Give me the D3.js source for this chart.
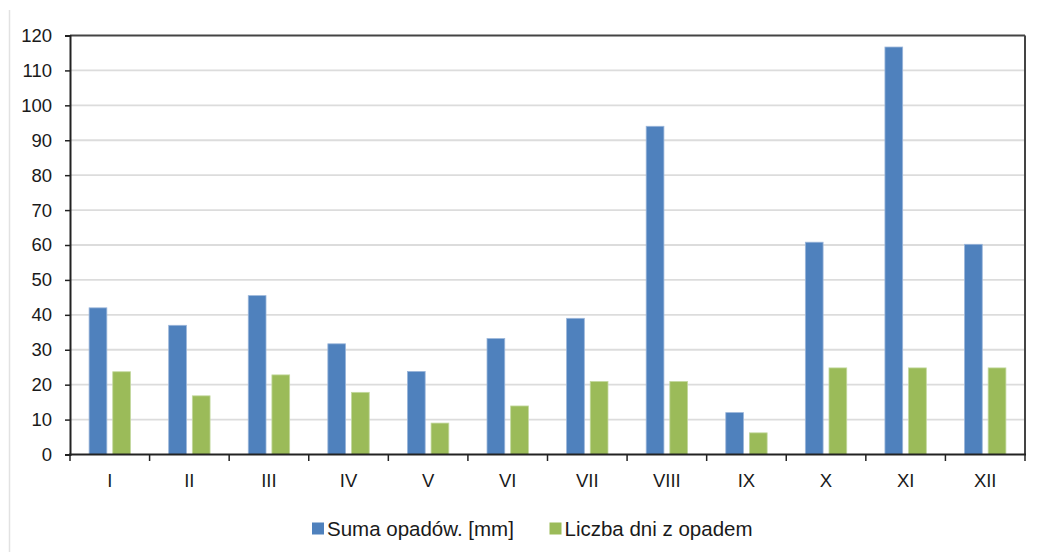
<!DOCTYPE html>
<html>
<head>
<meta charset="utf-8">
<script src="https://cdn.jsdelivr.net/npm/d3@7"></script>
<style>
  html, body { margin: 0; padding: 0; background: #fff; }
  svg { display: block; font-family: "Liberation Sans", Arial, sans-serif; }
</style>
</head>
<body>
<svg id="chart" width="1037" height="552"></svg>
<script>
// Monthly precipitation totals and number of days with precipitation
const months = ["I", "II", "III", "IV", "V", "VI", "VII", "VIII", "IX", "X", "XI", "XII"];
const sumaOpadow = [42, 37, 45.5, 31.7, 23.8, 33.2, 39, 94, 12, 60.8, 116.7, 60.2];
const dniZOpadem = [23.7, 16.8, 22.8, 17.8, 9, 13.9, 20.9, 20.9, 6.2, 24.8, 24.8, 24.8];
const seriesNames = ["Suma opadów. [mm]", "Liczba dni z opadem"];
const seriesColors = ["#4f81bd", "#9bbb59"];
const yTicks = [0, 10, 20, 30, 40, 50, 60, 70, 80, 90, 100, 110, 120];

const svg = d3.select("#chart");
const plotLeft = 70, plotRight = 1025, plotTop = 35.5, plotBottom = 454.5;

const rows = months.map((m, i) => ({ month: m, values: [sumaOpadow[i], dniZOpadem[i]] }));

const x0 = d3.scaleBand().domain(months).range([plotLeft, plotRight]).padding(0);
const x1 = d3.scaleBand().domain([0, 1])
  .range([x0.step() * 0.24, x0.step() * 0.76]).paddingInner(0.25);
const y = d3.scaleLinear().domain([0, 120]).range([plotBottom, plotTop]);

// page edge line
svg.append("line").attr("x1", 9.5).attr("x2", 9.5).attr("y1", 10).attr("y2", 552)
  .attr("stroke", "#e2e2e2").attr("stroke-width", 1.5);

// gridlines
svg.append("g").selectAll("line").data(yTicks.filter(t => t > 0 && t < 120)).join("line")
  .attr("x1", plotLeft).attr("x2", plotRight)
  .attr("y1", d => y(d)).attr("y2", d => y(d))
  .attr("stroke", "#dcdcdc").attr("stroke-width", 1.8);

// bars
const groups = svg.append("g").selectAll("g").data(rows).join("g")
  .attr("transform", d => `translate(${x0(d.month)},0)`);
groups.selectAll("rect").data(d => d.values.map((v, k) => ({ k, v }))).join("rect")
  .attr("x", d => x1(d.k))
  .attr("width", x1.bandwidth())
  .attr("y", d => y(d.v))
  .attr("height", d => y(0) - y(d.v))
  .attr("fill", d => seriesColors[d.k])
  .attr("stroke", d => d.k === 0 ? "#9bb6da" : "#c3d89e")
  .attr("stroke-width", 0.8);

// frame: top and right border
svg.append("line").attr("x1", plotLeft).attr("x2", plotRight).attr("y1", plotTop).attr("y2", plotTop)
  .attr("stroke", "#444").attr("stroke-width", 2);
svg.append("line").attr("x1", plotRight).attr("x2", plotRight).attr("y1", plotTop).attr("y2", plotBottom)
  .attr("stroke", "#444").attr("stroke-width", 2);

// y axis
const yAxis = d3.axisLeft(y).tickValues(yTicks).tickSize(5).tickPadding(13);
const gy = svg.append("g").attr("transform", `translate(${plotLeft},0)`).call(yAxis);
gy.select(".domain").attr("stroke", "#222").attr("stroke-width", 2);
gy.selectAll(".tick line").attr("stroke", "#222").attr("stroke-width", 1.5);
gy.selectAll(".tick text").attr("fill", "#1a1a1a").style("font-size", "18.5px")
  .style("font-family", "'Liberation Sans', Arial, sans-serif");

// x axis with ticks on category boundaries
const gx = svg.append("g").attr("transform", `translate(0,${plotBottom})`);
gx.append("line").attr("x1", plotLeft - 1).attr("x2", plotRight + 1).attr("y1", 0).attr("y2", 0)
  .attr("stroke", "#222").attr("stroke-width", 2);
const boundaries = months.map(m => x0(m)).concat([plotRight]);
gx.selectAll("line.tk").data(boundaries).join("line").attr("class", "tk")
  .attr("x1", d => d).attr("x2", d => d).attr("y1", 0).attr("y2", 6.5)
  .attr("stroke", "#222").attr("stroke-width", 1.5);
gx.selectAll("text").data(months).join("text")
  .attr("x", d => x0(d) + x0.bandwidth() / 2)
  .attr("y", 32)
  .attr("text-anchor", "middle")
  .attr("fill", "#1a1a1a")
  .style("font-size", "18.5px")
  .text(d => d);

// legend
const legendItems = [{ x: 312, k: 0 }, { x: 549.5, k: 1 }];
const lg = svg.append("g").selectAll("g").data(legendItems).join("g")
  .attr("transform", d => `translate(${d.x},0)`);
lg.append("rect").attr("x", 0).attr("y", 522.5).attr("width", 12).attr("height", 12)
  .attr("fill", d => seriesColors[d.k]);
lg.append("text").attr("x", 15).attr("y", 535.5)
  .attr("fill", "#1a1a1a").style("font-size", "20.5px")
  .text(d => seriesNames[d.k]);
</script>
</body>
</html>
